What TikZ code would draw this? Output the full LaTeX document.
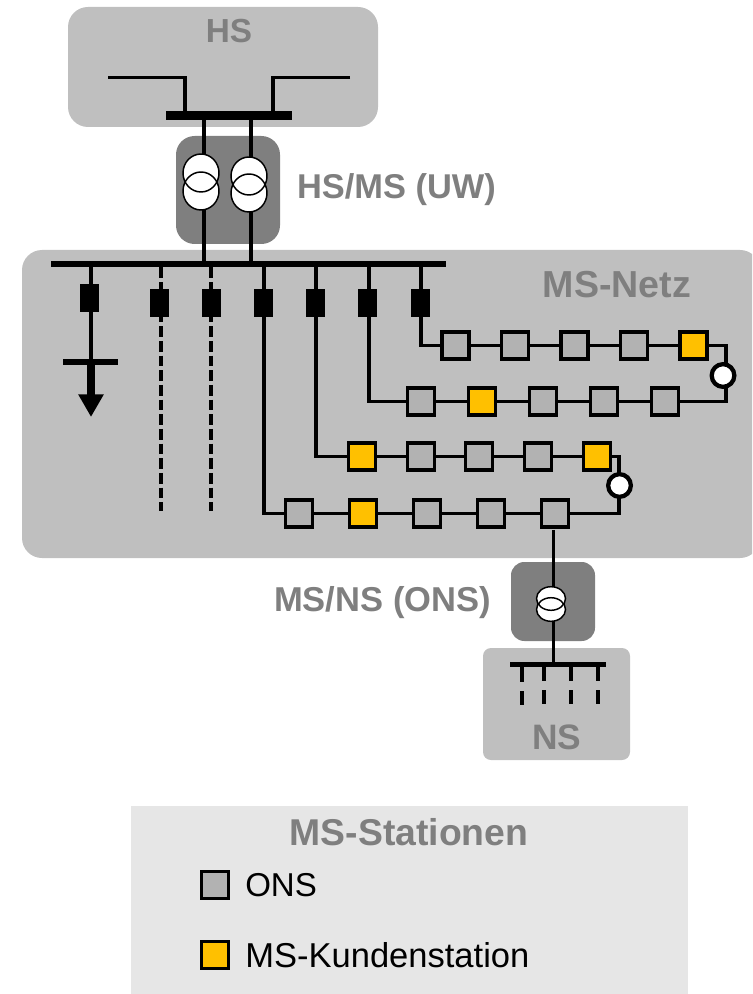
\documentclass[tikz,border=0pt]{standalone}
\usepackage{fontspec}
\setmainfont{Liberation Sans}
\usetikzlibrary{arrows.meta}
\definecolor{netz}{HTML}{BFBFBF}
\definecolor{trafo}{HTML}{7F7F7F}
\definecolor{station}{HTML}{B2B2B2}
\definecolor{kunde}{HTML}{FFC000}
\definecolor{legend}{HTML}{E6E6E6}
\newcommand{\fsz}[1]{\fontsize{#1}{#1}\selectfont}
\tikzset{
  x=.75pt,y=-.75pt,
  area/.style={fill=netz,draw=none},
  label/.style={text=trafo,font=\bfseries,inner sep=0pt},
  plain/.style={text=black,inner sep=0pt,anchor=west},
  bus/.style={fill=black,draw=none,inner sep=0pt,outer sep=0pt,rectangle},
  breaker/.style={bus,minimum width=14.25pt,minimum height=21pt},
  ons/.style={rectangle,draw=black,fill=station,line width=2.4pt,minimum size=20.2pt,inner sep=0pt,outer sep=0pt},
  ksn/.style={ons,fill=kunde},
  ring/.style={circle,draw=black,fill=white,line width=3.2pt,minimum size=17pt,inner sep=0pt,outer sep=0pt},
  wire/.style={line width=2.5pt,draw=black,line join=miter},
  feeder/.style={line width=2.6pt,draw=black},
  dashfeeder/.style={line width=3pt,draw=black,dash pattern=on 8.2pt off 2.8pt},
  hv/.style={line width=3pt,draw=black},
  winding/.style={line width=1.1pt,draw=black},
  lvdash/.style={line width=3pt,draw=black},
}
\begin{document}
\begin{tikzpicture}
\useasboundingbox (0,0) rectangle (752,994);
\clip (0,0) rectangle (752,994);
% areas
\fill[area,rounded corners=15pt] (68,7) rectangle (378,127);
\fill[area,rounded corners=15pt] (22,250) rectangle (760,558);
\fill[trafo,rounded corners=14pt] (176,136) rectangle (280,244);
\fill[trafo,rounded corners=10pt] (511,562) rectangle (595,641);
\fill[area,rounded corners=6pt] (483,648) rectangle (630,760);
\fill[legend] (131,806) rectangle (688,994);
% labels
\node[label,font=\bfseries\fsz{25}] (lhs) at (229,31.5) {HS};
\node[label,font=\bfseries\fsz{25.8}] (luw) at (396.5,190) {HS/MS (UW)};
\node[label,font=\bfseries\fsz{28.2}] (lnetz) at (617,285) {MS-Netz};
\node[label,font=\bfseries\fsz{25.9}] (lons) at (382.5,603) {MS/NS (ONS)};
\node[label,font=\bfseries\fsz{26.5}] (lns) at (557,737) {NS};
\node[label,font=\bfseries\fsz{28}] (lms) at (409,832) {MS-Stationen};
% HS network
\node[bus,minimum width=94.5pt,minimum height=6.75pt] (hsbus) at (229,115.5) {};
\coordinate (hsl) at (108,77.5);
\coordinate (hsr) at (350,77.5);
\draw[feeder] (hsl) -| (hsbus.north -| 185,0);
\draw[feeder] (hsr) -| (hsbus.north -| 273,0);
% main bus
\node[bus,minimum width=296.25pt,minimum height=4.5pt] (msbus) at (248.5,264.5) {};
% HV transformers
\coordinate (t1a) at (201,173); \coordinate (t1b) at (201,191);
\coordinate (t2a) at (249,176); \coordinate (t2b) at (249,193);
\draw[hv] (hsbus.south -| 204,0) -- (msbus.north -| 204,0);
\draw[hv] (hsbus.south -| 251,0) -- (msbus.north -| 251,0);
\fill[white] (t1a) ellipse [x radius=18,y radius=19];
\fill[white] (t1b) ellipse [x radius=18,y radius=19];
\fill[white] (t2a) ellipse [x radius=18,y radius=19];
\fill[white] (t2b) ellipse [x radius=18,y radius=19];
\draw[winding] (t1a) ellipse [x radius=18,y radius=19];
\draw[winding] (t1b) ellipse [x radius=18,y radius=19];
\draw[winding] (t2a) ellipse [x radius=18,y radius=19];
\draw[winding] (t2b) ellipse [x radius=18,y radius=19];
% load feeder
\node[breaker] (b1) at (89.5,298.5) {};
\node[bus,minimum width=41.25pt,minimum height=4.5pt] (lbar) at (90.5,362) {};
\draw[feeder] (msbus.south -| 91,0) -- (lbar.north -| 91,0);
\draw[line width=6pt,-{Triangle[width=18pt,length=17pt]}] (lbar.south -| 91,0) -- (91,417);
% dashed feeders
\coordinate (d2) at (161,511);
\coordinate (d3) at (211,511);
\draw[dashfeeder] (msbus.south -| d2) -- (d2);
\draw[dashfeeder] (msbus.south -| d3) -- (d3);
\node[breaker] (b2) at (159.5,303) {};
\node[breaker] (b3) at (211.5,303) {};
% stations row 1
\node[ons] (a1) at (455.5,345.5) {};
\node[ons] (a2) at (515,345.5) {};
\node[ons] (a3) at (574.5,345.5) {};
\node[ons] (a4) at (634,345.5) {};
\node[ksn] (a5) at (693.5,345.5) {};
% row 2
\node[ons] (c1) at (421,401.5) {};
\node[ksn] (c2) at (482,401.5) {};
\node[ons] (c3) at (543,401.5) {};
\node[ons] (c4) at (604,401.5) {};
\node[ons] (c5) at (665,401.5) {};
% row 3
\node[ksn] (e1) at (362,456.5) {};
\node[ons] (e2) at (421,456.5) {};
\node[ons] (e3) at (479,456.5) {};
\node[ons] (e4) at (538,456.5) {};
\node[ksn] (e5) at (597,456.5) {};
% row 4
\node[ons] (g1) at (299,513.5) {};
\node[ksn] (g2) at (363,513.5) {};
\node[ons] (g3) at (427,513.5) {};
\node[ons] (g4) at (491,513.5) {};
\node[ons] (g5) at (555,513.5) {};
% breakers
\node[breaker] (b4) at (263.5,303) {};
\node[breaker] (b5) at (315.5,303) {};
\node[breaker] (b6) at (367.5,303) {};
\node[breaker] (b7) at (420,303) {};
% feeder wires
\draw[feeder] (msbus.south -| 264,0) |- (g1.west);
\draw[feeder] (msbus.south -| 316,0) |- (e1.west);
\draw[feeder] (msbus.south -| 369,0) |- (c1.west);
\draw[feeder] (msbus.south -| 421,0) |- (a1.west);
\foreach \p/\q in {a1/a2,a2/a3,a3/a4,a4/a5,c1/c2,c2/c3,c3/c4,c4/c5,e1/e2,e2/e3,e3/e4,e4/e5,g1/g2,g2/g3,g3/g4,g4/g5}
  \draw[wire] (\p.east) -- (\q.west);
% rings
\coordinate (r1x) at (726,0);
\coordinate (r2x) at (619,0);
\draw[wire] (a5.east) -| (r1x |- c5) -- (c5.east);
\draw[wire] (e5.east) -| (r2x |- g5) -- (g5.east);
\node[ring] (r1) at (723,375.5) {};
\node[ring] (r2) at (619.5,485.5) {};
% ONS transformer
\node[bus,minimum width=72pt,minimum height=3.75pt] (nsbus) at (558,664) {};
\draw[line width=2pt] (g5.south -| 553.5,0) ++(0,3) -- (nsbus.north -| 553.5,0);
\coordinate (t3a) at (551,598.5); \coordinate (t3b) at (551,609.5);
\fill[white] (t3a) ellipse [x radius=14.5,y radius=11.8];
\fill[white] (t3b) ellipse [x radius=14.5,y radius=11.8];
\draw[winding] (t3a) ellipse [x radius=14.5,y radius=11.8];
\draw[winding] (t3b) ellipse [x radius=14.5,y radius=11.8];
% LV feeders
\draw[lvdash] (522,664) -- (522,682) (522,691) -- (522,705);
\draw[lvdash] (544,664) -- (544,681) (544,690) -- (544,704);
\draw[lvdash] (571,664) -- (571,681) (571,690) -- (571,704);
\draw[lvdash] (598,664) -- (598,681) (598,690) -- (598,704);
% legend
\node[ons] (k1) at (215,885) {};
\node[plain,font=\fsz{24.8}] (k1t) at (245,885) {ONS};
\node[ksn] (k2) at (215,955) {};
\node[plain,font=\fsz{25.9}] (k2t) at (245,955.5) {MS-Kundenstation};
\end{tikzpicture}
\end{document}
